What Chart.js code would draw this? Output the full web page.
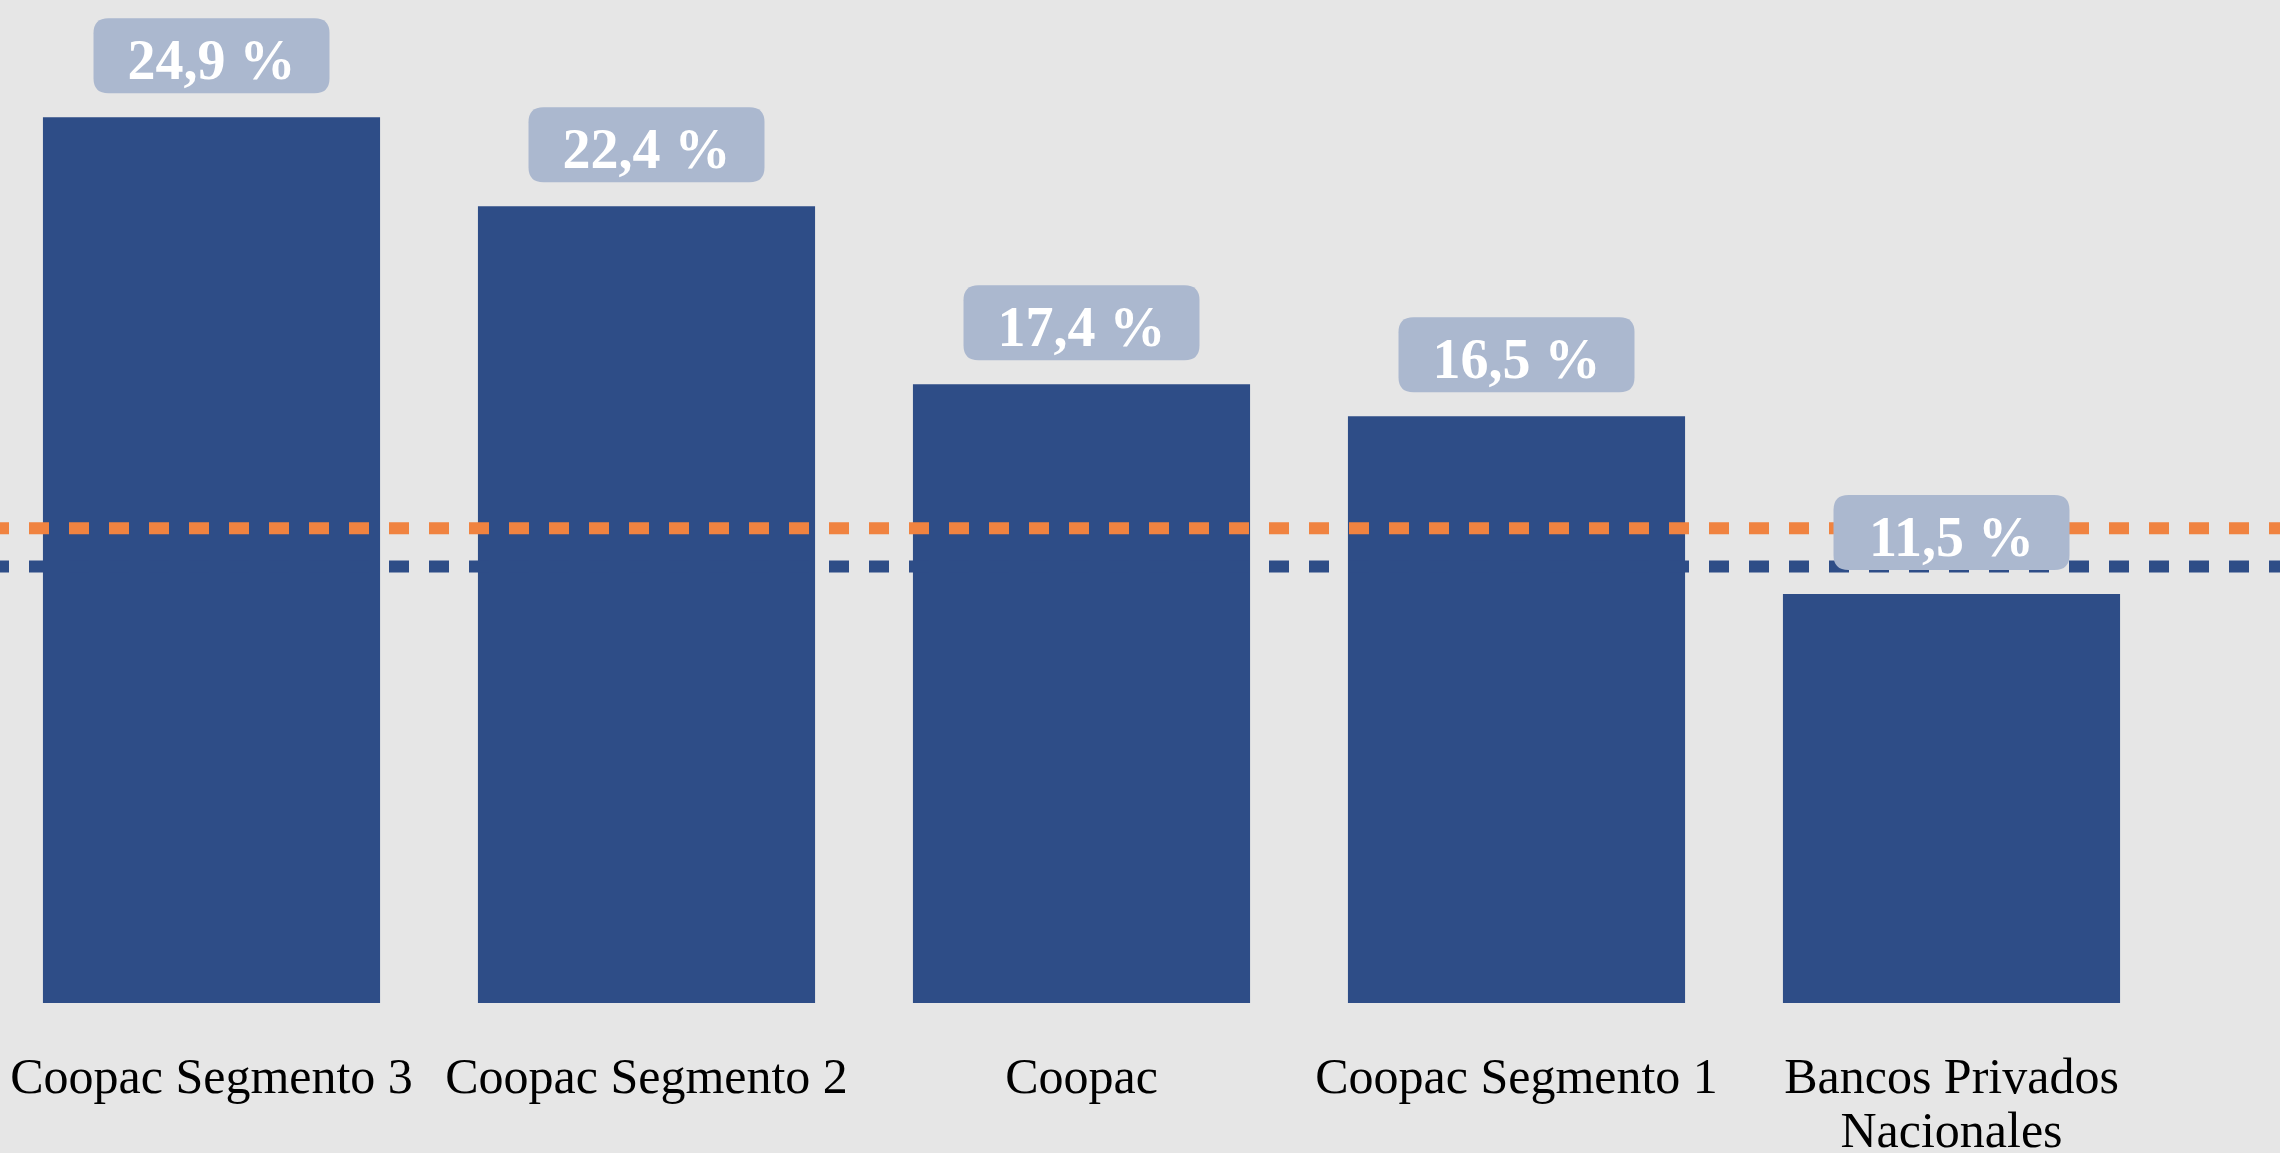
<!DOCTYPE html>
<html>
<head>
<meta charset="utf-8">
<script src="https://cdn.jsdelivr.net/npm/chart.js@4.4.1/dist/chart.umd.min.js"></script>
<style>
  html, body { margin: 0; padding: 0; background: #E6E6E6; }
  #page { position: relative; width: 2280px; height: 1153px; overflow: hidden; }
  /* plot starts slightly left of the page edge */
  #wrap { position: absolute; left: -6px; top: 0; width: 2286px; height: 1153px; }
</style>
</head>
<body>
<div id="page"><div id="wrap"><canvas id="chart"></canvas></div></div>
<script>
// --- Data ---
const categories = [
  "Coopac Segmento 3",
  "Coopac Segmento 2",
  "Coopac",
  "Coopac Segmento 1",
  ["Bancos Privados", "Nacionales"],
];
const values = [24.9, 22.4, 17.4, 16.5, 11.5];
// reference lines (orange, blue)
const refValues = [13.35, 12.27];
const refColors = ["#F08340", "#2E4D87"];
const yMax = 28.2;

const BAR_COLOR = "#2E4D87";
const BOX_COLOR = "#ABB8CF";
const FONT = "'Liberation Serif', 'Times New Roman', serif";

function fmt(v) {
  return v.toFixed(1).replace(".", ",") + " %";
}

function roundRect(ctx, x, y, w, h, r) {
  ctx.beginPath();
  ctx.moveTo(x + r, y);
  ctx.lineTo(x + w - r, y);
  ctx.quadraticCurveTo(x + w, y, x + w, y + r);
  ctx.lineTo(x + w, y + h - r);
  ctx.quadraticCurveTo(x + w, y + h, x + w - r, y + h);
  ctx.lineTo(x + r, y + h);
  ctx.quadraticCurveTo(x, y + h, x, y + h - r);
  ctx.lineTo(x, y + r);
  ctx.quadraticCurveTo(x, y, x + r, y);
  ctx.closePath();
}

// dashed lines across the full width, then the value boxes on top
const overlayPlugin = {
  id: "overlay",
  afterDatasetsDraw(chart) {
    const { ctx, scales } = chart;
    const yScale = scales.y;

    ctx.save();
    ctx.lineWidth = 12;
    ctx.lineCap = "butt";
    ctx.setLineDash([20, 20]);
    ctx.lineDashOffset = 5;
    refValues.forEach((v, i) => {
      const y = yScale.getPixelForValue(v);
      ctx.strokeStyle = refColors[i];
      ctx.beginPath();
      ctx.moveTo(0, y);
      ctx.lineTo(chart.width, y);
      ctx.stroke();
    });
    ctx.restore();

    const meta = chart.getDatasetMeta(0);
    ctx.save();
    ctx.font = `bold 56px ${FONT}`;
    ctx.textAlign = "center";
    ctx.textBaseline = "alphabetic";
    meta.data.forEach((bar, i) => {
      const w = 236, h = 75;
      const top = bar.y - 24 - h;
      ctx.fillStyle = BOX_COLOR;
      roundRect(ctx, bar.x - w / 2, top, w, h, 15);
      ctx.fill();
      ctx.fillStyle = "#FFFFFF";
      ctx.fillText(fmt(values[i]), bar.x, top + 61);
    });
    ctx.restore();
  },
};

const ctx = document.getElementById("chart").getContext("2d");
new Chart(ctx, {
  type: "bar",
  data: {
    labels: categories,
    datasets: [
      {
        data: values,
        backgroundColor: BAR_COLOR,
        barPercentage: 0.775,
        categoryPercentage: 1,
      },
    ],
  },
  options: {
    responsive: true,
    maintainAspectRatio: false,
    devicePixelRatio: 1,
    animation: false,
    layout: { padding: { left: 0, right: 111, top: 0, bottom: -58 } },
    plugins: { legend: { display: false }, tooltip: { enabled: false } },
    scales: {
      x: {
        grid: { display: false, drawTicks: false },
        border: { display: false },
        ticks: {
          color: "#000000",
          font: { family: FONT, size: 50, lineHeight: 1.08 },
          padding: 50,
          maxRotation: 0,
          autoSkip: false,
        },
        // keep the wide labels from pushing the plot inward
        afterFit(scale) {
          scale.paddingLeft = 0;
          scale.paddingRight = 0;
        },
      },
      y: { display: false, min: 0, max: yMax },
    },
  },
  plugins: [overlayPlugin],
});
</script>
</body>
</html>
